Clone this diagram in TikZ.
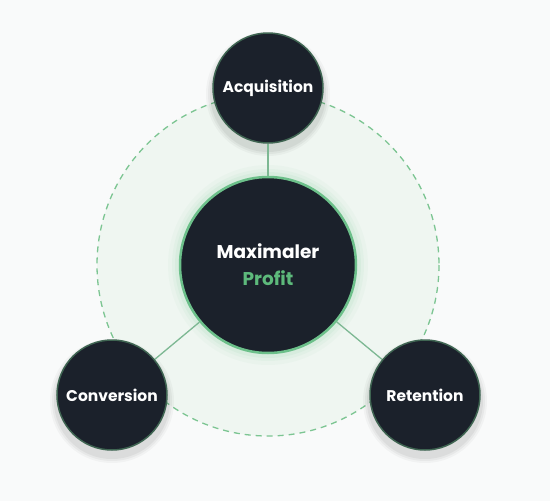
\documentclass[tikz,border=0pt]{standalone}
\usepackage{fontspec}
\setmainfont{Poppins}
\definecolor{bgc}{HTML}{F9FAFA}
\definecolor{navy}{HTML}{1B212B}
\definecolor{ringg}{HTML}{3F6552}
\definecolor{mgreen}{HTML}{6CC08A}
\definecolor{lgreen}{HTML}{7DB893}
\definecolor{paleg}{HTML}{EFF6F1}
\definecolor{dashg}{HTML}{7CC592}
\definecolor{profitg}{HTML}{5DB97B}
\begin{document}
\begin{tikzpicture}[x=1pt,y=-1pt,
  sat/.style={circle,fill=navy,draw=ringg,line width=1.5pt,minimum size=110pt,inner sep=0pt,text=white,font=\bfseries\fontsize{15.5}{17}\selectfont},
  hub/.style={circle,fill=navy,draw=mgreen,line width=2.5pt,minimum size=176pt,inner sep=0pt,text=white,align=center,font=\bfseries\fontsize{18.5}{27}\selectfont},
  link/.style={draw=lgreen,line width=1.3pt}]
\fill[bgc] (0,0) rectangle (550,501);
\useasboundingbox (0,0) rectangle (550,501);
% pale area and dashed ring
\fill[paleg] (268,265) circle (171);
\draw[dashg,line width=1.3pt,dash pattern=on 6pt off 5pt] (268,265) circle (171);
% glow around hub
\foreach \r/\o in {100/0.04,96/0.06,93/0.08}{\fill[mgreen,opacity=\o] (268,265) circle (\r);}
% shadows of satellites
\foreach \cx/\cy in {268/88,112/395,425/395}{
  \foreach \r/\o in {62/0.03,60/0.04,58/0.05}{\fill[black,opacity=\o] (\cx,\cy+6) circle (\r);}
}
\node[hub] (H) at (268,265) {Maximaler\\\textcolor{profitg}{Profit}};
\node[sat] (A) at (268,88) {Acquisition};
\node[sat] (C) at (112,395) {Conversion};
\node[sat] (R) at (425,395) {Retention};
\draw[link] (H) -- (A);
\draw[link] (H) -- (C);
\draw[link] (H) -- (R);
\end{tikzpicture}
\end{document}
